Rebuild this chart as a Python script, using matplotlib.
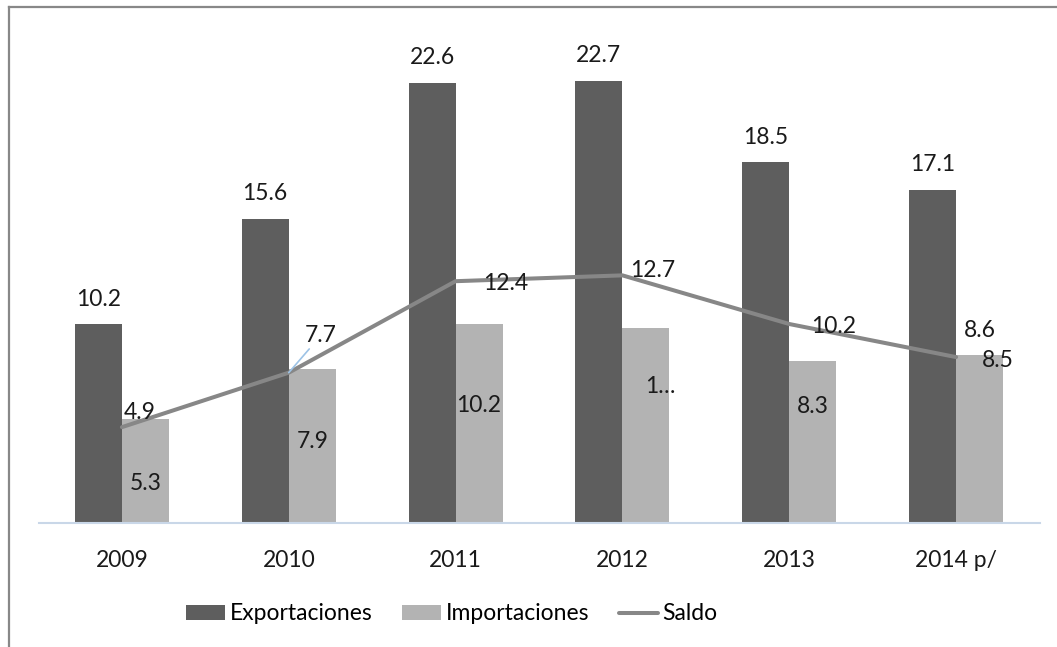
import matplotlib
matplotlib.use('Agg')
import matplotlib.pyplot as plt
from matplotlib.lines import Line2D
import numpy as np

plt.rcParams['font.family'] = ['Lato', 'DejaVu Sans']

years = ['2009', '2010', '2011', '2012', '2013', '2014 p/']
exportaciones = [10.2, 15.6, 22.6, 22.7, 18.5, 17.1]
importaciones = [5.3, 7.9, 10.2, 10.0, 8.3, 8.6]
saldo = [4.9, 7.7, 12.4, 12.7, 10.2, 8.5]
imp_labels = ['5.3', '7.9', '10.2', '1…', '8.3', '8.6']

# label placement (pixel offsets, Excel moved some of them by hand)
imp_offsets = [(0, -64), (0, -73), (0, -81), (14, -59), (0, -46), (0, 25)]
saldo_offsets = [(18, 15), (32, 37), (50, -2), (30, 5), (44, -2), (42, -3)]

c_exp = '#5e5e5e'
c_imp = '#b3b3b3'
c_sal = '#878787'
fs = 16.5

fig = plt.figure(figsize=(10.57, 6.47), dpi=100)
ax = fig.add_axes([38.5 / 1057, 1 - 522.5 / 647, 1001 / 1057, 486.5 / 647])

x = np.arange(len(years))
w = 0.282
b1 = ax.bar(x - w / 2, exportaciones, w, color=c_exp, label='Exportaciones', zorder=2)
b2 = ax.bar(x + w / 2, importaciones, w, color=c_imp, label='Importaciones', zorder=2)
ln, = ax.plot(x, saldo, color=c_sal, lw=2.9, solid_capstyle='round', label='Saldo', zorder=3)

for xi, v in zip(x, exportaciones):
    ax.annotate(f'{v:.1f}', (xi - w / 2, v), xytext=(0, 25), textcoords='offset pixels',
                ha='center', va='center', fontsize=fs, color='#1a1a1a', zorder=5)

for xi, v, t, off in zip(x, importaciones, imp_labels, imp_offsets):
    ax.annotate(t, (xi + w / 2, v), xytext=off, textcoords='offset pixels',
                ha='center', va='center', fontsize=fs, color='#1a1a1a', zorder=5)

for i, (xi, v, off) in enumerate(zip(x, saldo, saldo_offsets)):
    kw = {}
    if i == 1:
        kw['arrowprops'] = dict(arrowstyle='-', color='#9dc3e6', lw=1.2, shrinkA=0, shrinkB=0)
    ax.annotate(f'{v:.1f}', (xi, v), xytext=off, textcoords='offset pixels',
                ha='center', va='center', fontsize=fs, color='#1a1a1a', zorder=5, **kw)

ax.set_xlim(-0.5, len(years) - 0.5)
ax.set_ylim(0, 25)
ax.set_xticks(x)
ax.set_xticklabels(years, fontsize=fs, color='#1a1a1a')
ax.tick_params(axis='x', length=0, pad=20)
ax.set_yticks([])
for s in ['top', 'right', 'left']:
    ax.spines[s].set_visible(False)
ax.spines['bottom'].set_color('#c9d7e8')
ax.spines['bottom'].set_linewidth(1.5)

ax.legend([b1, b2, ln], ['Exportaciones', 'Importaciones', 'Saldo'],
          loc='center', bbox_to_anchor=(452 / 1057, 1 - 614 / 647),
          bbox_transform=fig.transFigure, ncol=3, frameon=False, fontsize=fs,
          handlelength=1.7, handleheight=0.6, handletextpad=0.2, columnspacing=1.3)

# outer chart border (left and top visible)
fig.add_artist(Line2D([8.5 / 1057, 8.5 / 1057], [0, 1 - 7 / 647], transform=fig.transFigure,
                      color='#888888', lw=1.6))
fig.add_artist(Line2D([8.5 / 1057, 1], [1 - 7 / 647, 1 - 7 / 647], transform=fig.transFigure,
                      color='#888888', lw=1.6))

fig.savefig('out.png', dpi=100)
